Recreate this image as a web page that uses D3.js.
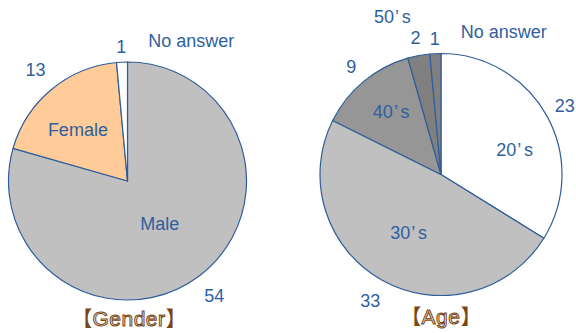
<!DOCTYPE html>
<html>
<head>
<meta charset="utf-8">
<script src="https://cdn.jsdelivr.net/npm/d3@7"></script>
<style>
  html, body { margin: 0; padding: 0; background: #fff; }
  svg { display: block; }
</style>
</head>
<body>
<svg id="chart" width="576" height="333"></svg>
<script>
// Survey respondents, split by gender and by age group
const genderCategories = ["Male", "Female", "No answer"];
const genderValues = [54, 13, 1];
const genderTitle = "Gender";

const ageCategories = ["20’s", "30’s", "40’s", "50’s", "No answer"];
const ageValues = [23, 33, 9, 2, 1];
const ageTitle = "Age";

const genderColors = ["#c0c0c0", "#ffcc99", "#ffffff"];
const ageColors = ["#ffffff", "#c0c0c0", "#969696", "#808080", "#808080"];

const EDGE = "#2f5d9a";
const TEXT = "#2f5f9e";
const BROWN = "#7a4616";
const FONT = "'Liberation Sans', Arial, sans-serif";

const svg = d3.select("#chart");

// label placement: radial factor at slice mid-angle plus small nudges
const genderLayout = {
  center: [127.5, 181], r: 119,
  valueK: [1.21, 1.21, 1.13],
  valueNudge: [[0, 0], [0, 0], [0, 0]],
  nameK: [0.45, 0.6, null],
  nameNudge: [[0, 0], [-4, 4], [0, 0]],
  titleX: 129, titleY: 326
};
const ageLayout = {
  center: [441, 174.5], r: 121,
  valueK: [1.17, 1.2, 1.16, 1.15, 1.12],
  valueNudge: [[0, 0], [0, 0], [0, 0], [0, 0], [0, 0]],
  nameK: [0.62, 0.55, 0.67, null, null],
  nameNudge: [[8, 12], [0, 0], [2, 0], [0, 0], [0, 0]],
  titleX: 441, titleY: 324
};

function drawPie(cats, vals, colors, title, L) {
  const g = svg.append("g").attr("transform", `translate(${L.center[0]},${L.center[1]})`);
  const data = cats.map((c, i) => ({ cat: c, value: vals[i], i }));
  const pie = d3.pie().value(d => d.value).sort(null);
  const arcs = pie(data);
  const arc = d3.arc().innerRadius(0).outerRadius(L.r);

  g.selectAll("path.slice").data(arcs).join("path")
    .attr("class", "slice")
    .attr("d", arc)
    .attr("fill", d => colors[d.data.i])
    .attr("stroke", EDGE)
    .attr("stroke-width", 1.2)
    .attr("stroke-linejoin", "round");

  const polar = (a, k) => [Math.sin(a) * L.r * k, -Math.cos(a) * L.r * k];
  const mid = d => (d.startAngle + d.endAngle) / 2;

  // value labels outside the rim
  g.selectAll("text.val").data(arcs).join("text")
    .attr("class", "val")
    .attr("x", d => polar(mid(d), L.valueK[d.data.i])[0] + L.valueNudge[d.data.i][0])
    .attr("y", d => polar(mid(d), L.valueK[d.data.i])[1] + L.valueNudge[d.data.i][1])
    .attr("text-anchor", "middle")
    .attr("dominant-baseline", "central")
    .attr("font-family", FONT)
    .attr("font-size", 18)
    .attr("fill", TEXT)
    .text(d => d.data.value);

  // category names inside the slices
  const inner = arcs.filter(d => L.nameK[d.data.i] != null);
  const names = g.selectAll("text.name").data(inner).join("text")
    .attr("class", "name")
    .attr("x", d => polar(mid(d), L.nameK[d.data.i])[0] + L.nameNudge[d.data.i][0])
    .attr("y", d => polar(mid(d), L.nameK[d.data.i])[1] + L.nameNudge[d.data.i][1])
    .attr("text-anchor", "middle")
    .attr("dominant-baseline", "central")
    .attr("font-family", FONT)
    .attr("font-size", 18)
    .attr("fill", TEXT);
  writeName(names);

  // title beneath the pie: solid lenticular brackets around outlined lettering
  const t = svg.append("text")
    .attr("x", L.titleX).attr("y", L.titleY)
    .attr("text-anchor", "middle")
    .attr("font-size", 21);
  t.append("tspan")
    .attr("font-family", "'Noto Sans CJK JP', sans-serif")
    .attr("fill", BROWN)
    .text("【");
  t.append("tspan")
    .attr("font-family", FONT)
    .attr("fill", "#f8efe3")
    .attr("stroke", BROWN)
    .attr("stroke-width", 1)
    .attr("letter-spacing", 0.5)
    .text(title);
  t.append("tspan")
    .attr("font-family", "'Noto Sans CJK JP', sans-serif")
    .attr("fill", BROWN)
    .text("】");

  return { g, arcs, polar, mid };
}

// names like 20’s are set with a widened apostrophe
function writeName(sel) {
  sel.each(function (d) {
    const t = d3.select(this);
    const parts = d.data.cat.split("’");
    if (parts.length === 1) { t.text(d.data.cat); return; }
    t.append("tspan").text(parts[0]);
    t.append("tspan").attr("dx", 1).text("’");
    t.append("tspan").attr("dx", 3).text(parts[1]);
  });
}

const gp = drawPie(genderCategories, genderValues, genderColors, genderTitle, genderLayout);
const ap = drawPie(ageCategories, ageValues, ageColors, ageTitle, ageLayout);

// outside names for the thin slices, set beside their value labels
function outsideName(p, L, idx, dx, dy, anchor) {
  const d = p.arcs[idx];
  const pos = p.polar(p.mid(d), L.valueK[idx]);
  const t = p.g.append("text")
    .datum(d)
    .attr("x", pos[0] + dx)
    .attr("y", pos[1] + dy)
    .attr("text-anchor", anchor)
    .attr("dominant-baseline", "central")
    .attr("font-family", FONT)
    .attr("font-size", 18)
    .attr("fill", TEXT);
  writeName(t);
}
outsideName(gp, genderLayout, 2, 27, -6, "start");
outsideName(ap, ageLayout, 4, 26, -7, "start");
outsideName(ap, ageLayout, 3, -23, -21, "middle");
</script>
</body>
</html>
